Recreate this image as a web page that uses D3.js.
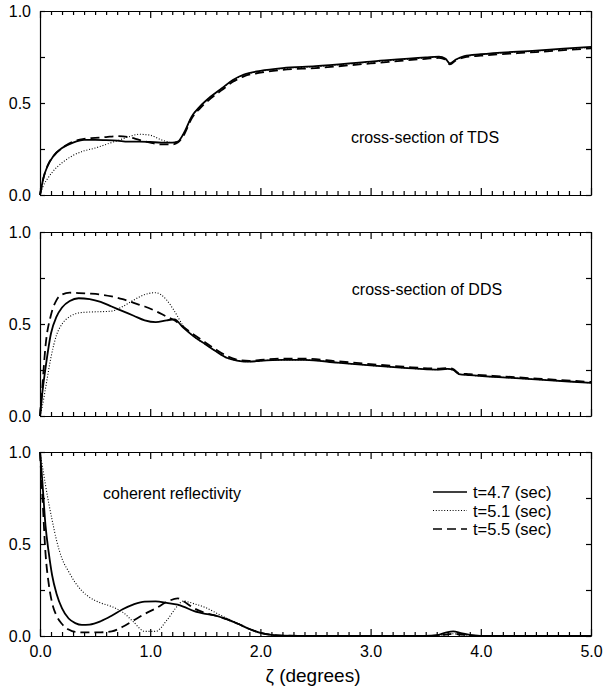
<!DOCTYPE html>
<html>
<head>
<meta charset="utf-8">
<script src="https://cdn.jsdelivr.net/npm/d3@7"></script>
<style>
  body { margin: 0; background: #fff; }
  svg { font-family: "Liberation Sans", Arial, sans-serif; }
  .axis path, .axis line { stroke: #000; stroke-width: 1.2; }
  .axis text { font-size: 16px; fill: #000; }
</style>
</head>
<body>
<svg id="chart" width="604" height="693"></svg>
<script>
// series labels
var seriesNames = ["t=4.7 (sec)", "t=5.1 (sec)", "t=5.5 (sec)"];
var xTicks = [0, 1, 2, 3, 4, 5];
var yLabels = [0, 0.5, 1];

// cross-section of TDS
var tdsX = [0, 0.03, 0.07, 0.12, 0.2, 0.3, 0.4, 0.5, 0.6, 0.7, 0.8, 0.9, 1.0, 1.1, 1.2, 1.25, 1.3, 1.38, 1.45, 1.55, 1.65, 1.75, 1.85, 2.0, 2.2, 2.5, 3.0, 3.5, 3.62, 3.68, 3.72, 3.77, 3.85, 4.0, 4.5, 5.0];
var tds47 = [0, 0.09, 0.16, 0.21, 0.255, 0.285, 0.30, 0.30, 0.298, 0.295, 0.29, 0.29, 0.288, 0.285, 0.285, 0.29, 0.33, 0.43, 0.48, 0.535, 0.58, 0.625, 0.655, 0.675, 0.69, 0.70, 0.725, 0.748, 0.752, 0.74, 0.715, 0.735, 0.755, 0.765, 0.785, 0.805];
var tds51 = [0, 0.05, 0.09, 0.13, 0.175, 0.215, 0.24, 0.255, 0.275, 0.295, 0.315, 0.33, 0.325, 0.30, 0.285, 0.29, 0.33, 0.43, 0.48, 0.533, 0.578, 0.622, 0.652, 0.672, 0.687, 0.697, 0.722, 0.745, 0.75, 0.738, 0.713, 0.733, 0.752, 0.762, 0.782, 0.802];
var tds55 = [0, 0.09, 0.16, 0.21, 0.255, 0.29, 0.305, 0.31, 0.315, 0.32, 0.315, 0.30, 0.285, 0.275, 0.275, 0.285, 0.32, 0.42, 0.47, 0.525, 0.57, 0.615, 0.645, 0.665, 0.68, 0.69, 0.715, 0.74, 0.745, 0.735, 0.71, 0.73, 0.748, 0.757, 0.777, 0.797];

// cross-section of DDS
var ddsX = [0, 0.02, 0.05, 0.1, 0.15, 0.2, 0.27, 0.35, 0.45, 0.55, 0.65, 0.75, 0.85, 0.95, 1.05, 1.15, 1.22, 1.3, 1.4, 1.5, 1.6, 1.7, 1.8, 1.9, 2.0, 2.2, 2.4, 2.7, 3.0, 3.3, 3.6, 3.7, 3.75, 3.8, 3.9, 4.2, 4.6, 5.0];
var dds47 = [0, 0.12, 0.26, 0.45, 0.54, 0.59, 0.625, 0.64, 0.635, 0.62, 0.595, 0.57, 0.545, 0.52, 0.51, 0.52, 0.525, 0.48, 0.43, 0.39, 0.35, 0.315, 0.30, 0.295, 0.30, 0.305, 0.305, 0.29, 0.275, 0.262, 0.252, 0.256, 0.25, 0.228, 0.222, 0.21, 0.195, 0.18];
var dds51 = [0, 0.05, 0.15, 0.32, 0.44, 0.50, 0.54, 0.56, 0.565, 0.567, 0.57, 0.595, 0.63, 0.66, 0.67, 0.63, 0.57, 0.49, 0.43, 0.39, 0.35, 0.315, 0.30, 0.295, 0.30, 0.305, 0.305, 0.29, 0.275, 0.262, 0.252, 0.256, 0.25, 0.228, 0.222, 0.21, 0.195, 0.18];
var dds55 = [0, 0.15, 0.38, 0.55, 0.63, 0.66, 0.67, 0.668, 0.665, 0.66, 0.65, 0.635, 0.615, 0.595, 0.57, 0.54, 0.52, 0.485, 0.44, 0.40, 0.36, 0.325, 0.305, 0.30, 0.305, 0.312, 0.312, 0.297, 0.282, 0.268, 0.258, 0.26, 0.255, 0.233, 0.227, 0.215, 0.20, 0.185];

// coherent reflectivity
var refX = [0, 0.02, 0.05, 0.08, 0.11, 0.15, 0.2, 0.26, 0.32, 0.38, 0.45, 0.55, 0.65, 0.75, 0.85, 0.95, 1.05, 1.15, 1.25, 1.3, 1.4, 1.5, 1.6, 1.7, 1.8, 1.9, 2.0, 2.1, 2.2, 2.5, 3.0, 3.5, 3.6, 3.68, 3.75, 3.82, 3.9, 4.0, 4.5, 5.0];
var ref47 = [1.0, 0.85, 0.6, 0.45, 0.33, 0.23, 0.15, 0.095, 0.07, 0.06, 0.062, 0.08, 0.11, 0.145, 0.172, 0.187, 0.188, 0.18, 0.17, 0.16, 0.135, 0.12, 0.11, 0.09, 0.065, 0.038, 0.017, 0.006, 0.002, 0, 0, 0, 0.004, 0.018, 0.025, 0.016, 0.006, 0.001, 0, 0];
var ref51 = [1.0, 0.93, 0.82, 0.72, 0.63, 0.52, 0.42, 0.35, 0.29, 0.245, 0.21, 0.18, 0.16, 0.13, 0.075, 0.025, 0.025, 0.085, 0.165, 0.19, 0.175, 0.155, 0.125, 0.095, 0.068, 0.04, 0.018, 0.006, 0.002, 0, 0, 0, 0.002, 0.008, 0.012, 0.008, 0.003, 0, 0, 0];
var ref55 = [1.0, 0.78, 0.45, 0.28, 0.18, 0.11, 0.065, 0.035, 0.022, 0.02, 0.02, 0.02, 0.025, 0.05, 0.085, 0.12, 0.15, 0.185, 0.205, 0.19, 0.15, 0.125, 0.11, 0.09, 0.065, 0.038, 0.017, 0.006, 0.002, 0, 0, 0, 0.002, 0.008, 0.012, 0.008, 0.003, 0, 0, 0];

var panels = [
  {top: 11, xs: tdsX, ys: [tds47, tds51, tds55], label: "cross-section of TDS", lx: 425, ly: 143},
  {top: 232, xs: ddsX, ys: [dds47, dds51, dds55], label: "cross-section of DDS", lx: 427, ly: 295},
  {top: 452, xs: refX, ys: [ref47, ref51, ref55], label: "coherent reflectivity", lx: 172, ly: 499}
];
var H = 184;
var styles = [
  {w: 1.8, dash: null},
  {w: 1.1, dash: "1,1.8"},
  {w: 1.8, dash: "9,5"}
];

var svg = d3.select("#chart");
var x = d3.scaleLinear().domain([0, 5]).range([40, 591]);
var minorX = d3.range(0, 50).map(function (i) { return i / 10; }).filter(function (v) { return v % 1 !== 0; });

panels.forEach(function (p, pi) {
  var y = d3.scaleLinear().domain([0, 1]).range([p.top + H, p.top]);
  var g = svg.append("g");

  // bottom axis
  g.append("g").attr("class", "axis")
    .attr("transform", "translate(0," + (p.top + H) + ")")
    .call(d3.axisBottom(x).tickValues(xTicks).tickSizeInner(-7).tickSizeOuter(0).tickPadding(10)
      .tickFormat(pi === 2 ? d3.format(".1f") : function () { return ""; }));
  g.append("g").attr("class", "axis")
    .attr("transform", "translate(0," + (p.top + H) + ")")
    .call(d3.axisBottom(x).tickValues(minorX).tickSize(-4).tickFormat(""))
    .select(".domain").remove();

  // top axis
  g.append("g").attr("class", "axis")
    .attr("transform", "translate(0," + p.top + ")")
    .call(d3.axisTop(x).tickValues(xTicks).tickSizeInner(-7).tickSizeOuter(0).tickFormat(""));
  g.append("g").attr("class", "axis")
    .attr("transform", "translate(0," + p.top + ")")
    .call(d3.axisTop(x).tickValues(minorX).tickSize(-4).tickFormat(""))
    .select(".domain").remove();

  // left / right axes
  g.append("g").attr("class", "axis")
    .attr("transform", "translate(40,0)")
    .call(d3.axisLeft(y).tickValues([0, 0.25, 0.5, 0.75, 1]).tickSizeInner(-5).tickSizeOuter(0).tickPadding(9)
      .tickFormat(function (d) { return yLabels.indexOf(d) >= 0 ? d3.format(".1f")(d) : ""; }));
  g.append("g").attr("class", "axis")
    .attr("transform", "translate(591,0)")
    .call(d3.axisRight(y).tickValues([0, 0.25, 0.5, 0.75, 1]).tickSizeInner(-5).tickSizeOuter(0).tickFormat(""));

  var line = d3.line()
    .x(function (d) { return x(d[0]); })
    .y(function (d) { return y(d[1]); })
    .curve(d3.curveMonotoneX);

  p.ys.forEach(function (vals, si) {
    var pts = p.xs.map(function (xv, i) { return [xv, vals[i]]; });
    g.append("path")
      .attr("d", line(pts))
      .attr("fill", "none")
      .attr("stroke", "#000")
      .attr("stroke-width", styles[si].w)
      .attr("stroke-dasharray", styles[si].dash);
  });

  g.append("text")
    .attr("x", p.lx).attr("y", p.ly)
    .attr("text-anchor", "middle")
    .attr("font-size", 16)
    .text(p.label);
});

// legend
var legend = svg.append("g");
seriesNames.forEach(function (name, i) {
  var cy = 492 + i * 18.5;
  legend.append("line")
    .attr("x1", 433).attr("x2", 467).attr("y1", cy).attr("y2", cy)
    .attr("stroke", "#000")
    .attr("stroke-width", i === 1 ? 1.1 : 1.3)
    .attr("stroke-dasharray", styles[i].dash);
  legend.append("text")
    .attr("x", 473).attr("y", cy + 6)
    .attr("font-size", 16.5)
    .text(name);
});

// x title
svg.append("text")
  .attr("x", 313).attr("y", 682)
  .attr("text-anchor", "middle")
  .attr("font-size", 19)
  .text("ζ (degrees)");
</script>
</body>
</html>
